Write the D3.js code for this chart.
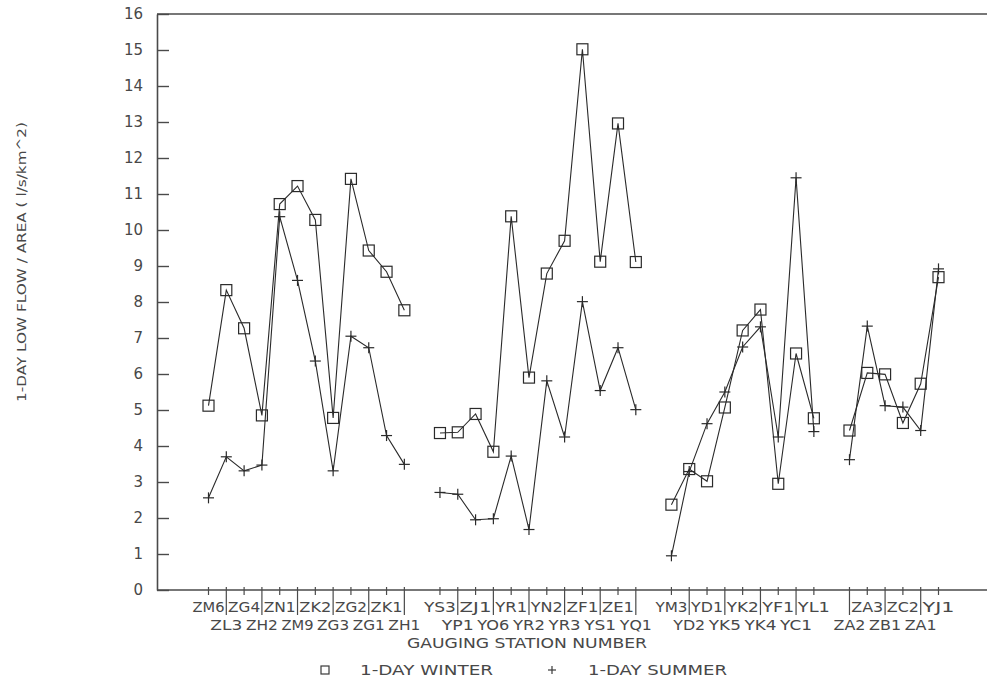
<!DOCTYPE html>
<html>
<head>
<meta charset="utf-8">
<script src="https://cdn.jsdelivr.net/npm/d3@7/dist/d3.min.js"></script>
<style>
  html, body { margin: 0; padding: 0; background: #fff; }
  svg { display: block; }
  text { font-family: "DejaVu Sans", sans-serif; fill: #484848; }
</style>
</head>
<body>
<svg id="chart" width="987" height="691"></svg>
<script>
// Gauging stations, in plotting order, split into regional groups
const group1 = ["ZM6","ZL3","ZG4","ZH2","ZN1","ZM9","ZK2","ZG3","ZG2","ZG1","ZK1","ZH1"];
const group2 = ["YS3","YP1","ZJ1","YO6","YR1","YR2","YN2","YR3","ZF1","YS1","ZE1","YQ1"];
const group3 = ["YM3","YD2","YD1","YK5","YK2","YK4","YF1","YC1","YL1"];
const group4 = ["ZA2","ZA3","ZB1","ZC2","ZA1","YJ1"];

// 1-day low flow per unit area (l/s/km^2), winter
const winter1 = [5.12, 8.33, 7.27, 4.85, 10.72, 11.22, 10.28, 4.78, 11.42, 9.43, 8.84, 7.77];
const winter2 = [4.36, 4.38, 4.89, 3.84, 10.38, 5.90, 8.79, 9.70, 15.02, 9.12, 12.96, 9.11];
const winter3 = [2.37, 3.36, 3.02, 5.07, 7.21, 7.79, 2.95, 6.57, 4.77];
const winter4 = [4.43, 6.03, 5.99, 4.64, 5.73, 8.69];

// 1-day low flow per unit area (l/s/km^2), summer
const summer1 = [2.56, 3.70, 3.31, 3.47, 10.37, 8.60, 6.36, 3.31, 7.05, 6.73, 4.29, 3.49];
const summer2 = [2.71, 2.66, 1.95, 1.98, 3.72, 1.68, 5.81, 4.25, 8.01, 5.54, 6.73, 5.01];
const summer3 = [0.95, 3.29, 4.62, 5.50, 6.75, 7.31, 4.25, 11.45, 4.40];
const summer4 = [3.62, 7.33, 5.12, 5.08, 4.43, 8.92];

const yTicks = d3.range(0, 17);

// Build one record per station; an empty slot separates consecutive groups
const groups = [
  { names: group1, winter: winter1, summer: summer1 },
  { names: group2, winter: winter2, summer: summer2 },
  { names: group3, winter: winter3, summer: summer3 },
  { names: group4, winter: winter4, summer: summer4 }
];
let stationIndex = 0;
const series = groups.map((g, gi) => g.names.map((name, i) => {
  const rec = { name, slot: stationIndex + gi, row: stationIndex % 2,
                winter: g.winter[i], summer: g.summer[i] };
  stationIndex++;
  return rec;
}));
const stations = series.flat();

const svg = d3.select("#chart");
const plotLeft = 157, plotTop = 14, plotBottom = 590, plotRight = 987;

const x = d3.scaleLinear().domain([0, d3.max(stations, d => d.slot)]).range([208.5, 938.5]);
const y = d3.scaleLinear().domain([0, 16]).range([plotBottom, plotTop]);

// Frame: top rule and baseline
const frame = svg.append("g").attr("stroke", "#4a4a4a").attr("stroke-width", 1.6).attr("fill", "none");
frame.append("line").attr("x1", plotLeft).attr("x2", plotRight).attr("y1", plotTop).attr("y2", plotTop);
frame.append("line").attr("x1", plotLeft).attr("x2", plotRight).attr("y1", plotBottom).attr("y2", plotBottom);

// Y axis with inward ticks
const yAxis = d3.axisLeft(y).tickValues(yTicks).tickFormat(d3.format("d"))
  .tickSizeInner(-12).tickSizeOuter(0).tickPadding(14);
const yg = svg.append("g").attr("transform", `translate(${plotLeft},0)`).call(yAxis);
yg.select(".domain").attr("stroke", "#4a4a4a").attr("stroke-width", 1.6);
yg.selectAll(".tick line").attr("stroke", "#4a4a4a").attr("stroke-width", 1.4);
yg.selectAll(".tick text").attr("font-size", 15).attr("fill", "#4a4a4a")
  .attr("font-family", "DejaVu Sans, sans-serif");

// Category ticks: stations on the lower label row get a long tick
const xt = svg.append("g").attr("stroke", "#4a4a4a").attr("stroke-width", 1.2);
xt.selectAll("line").data(stations).join("line")
  .attr("x1", d => x(d.slot)).attr("x2", d => x(d.slot))
  .attr("y1", plotBottom - 3)
  .attr("y2", d => d.row === 0 ? plotBottom + 5 : plotBottom + 25);

// Staggered station labels
svg.append("g").selectAll("text").data(stations).join("text")
  .attr("x", d => x(d.slot))
  .attr("y", d => d.row === 0 ? 607 : 625)
  .attr("text-anchor", "middle")
  .attr("dominant-baseline", "central")
  .attr("font-size", 14)
  .attr("textLength", 32)
  .attr("lengthAdjust", "spacingAndGlyphs")
  .text(d => d.name);

// Axis titles
svg.append("text").attr("x", 527).attr("y", 643)
  .attr("text-anchor", "middle").attr("dominant-baseline", "central")
  .attr("font-size", 14).attr("textLength", 240).attr("lengthAdjust", "spacingAndGlyphs")
  .text("GAUGING STATION NUMBER");

svg.append("text")
  .attr("transform", "translate(21,262) rotate(-90)")
  .attr("text-anchor", "middle").attr("dominant-baseline", "central")
  .attr("font-size", 13).attr("textLength", 280).attr("lengthAdjust", "spacingAndGlyphs")
  .text("1-DAY LOW FLOW / AREA ( l/s/km^2)");

// Series lines, broken between groups
const line = d3.line().x(d => x(d.slot));
const lines = svg.append("g").attr("fill", "none").attr("stroke", "#2a2a2a").attr("stroke-width", 1.1);
series.forEach(g => {
  lines.append("path").attr("d", line.y(d => y(d.winter))(g));
  lines.append("path").attr("d", line.y(d => y(d.summer))(g));
});

// Markers
const sq = 11, pl = 5.5;
svg.append("g").selectAll("rect").data(stations).join("rect")
  .attr("x", d => x(d.slot) - sq / 2).attr("y", d => y(d.winter) - sq / 2)
  .attr("width", sq).attr("height", sq)
  .attr("fill", "none").attr("stroke", "#2a2a2a").attr("stroke-width", 1.2);

const plus = svg.append("g").attr("stroke", "#2a2a2a").attr("stroke-width", 1.2);
stations.forEach(d => {
  const cx = x(d.slot), cy = y(d.summer);
  plus.append("line").attr("x1", cx - pl).attr("x2", cx + pl).attr("y1", cy).attr("y2", cy);
  plus.append("line").attr("x1", cx).attr("x2", cx).attr("y1", cy - pl).attr("y2", cy + pl);
});

// Legend
const lg = svg.append("g");
lg.append("rect").attr("x", 321).attr("y", 666).attr("width", 8).attr("height", 8)
  .attr("fill", "none").attr("stroke", "#3a3a3a").attr("stroke-width", 1.2);
lg.append("text").attr("x", 360).attr("y", 670).attr("dominant-baseline", "central")
  .attr("font-size", 14).attr("textLength", 133).attr("lengthAdjust", "spacingAndGlyphs")
  .text("1-DAY WINTER");
lg.append("line").attr("x1", 548).attr("x2", 556).attr("y1", 670).attr("y2", 670)
  .attr("stroke", "#3a3a3a").attr("stroke-width", 1.2);
lg.append("line").attr("x1", 552).attr("x2", 552).attr("y1", 666).attr("y2", 674)
  .attr("stroke", "#3a3a3a").attr("stroke-width", 1.2);
lg.append("text").attr("x", 588).attr("y", 670).attr("dominant-baseline", "central")
  .attr("font-size", 14).attr("textLength", 139).attr("lengthAdjust", "spacingAndGlyphs")
  .text("1-DAY SUMMER");
</script>
</body>
</html>
